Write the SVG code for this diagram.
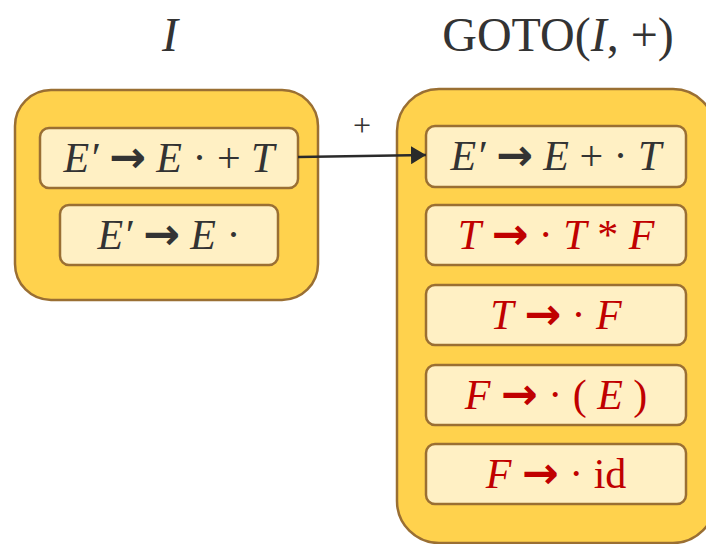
<svg xmlns="http://www.w3.org/2000/svg" width="706" height="544" viewBox="0 0 706 544">
<defs>
<style>
.outer{fill:#FFD24D;stroke:#9A6F33;stroke-width:2.5}
.inner{fill:#FFF0C4;stroke:#9A6F33;stroke-width:2.5}
.t{font-family:"Liberation Serif",serif;font-size:42px;text-anchor:middle;fill:#333333}
.r{fill:#C00000}
.i{font-style:italic}
.ar{font-family:"DejaVu Sans",sans-serif;font-weight:bold;font-size:44px}
.title{font-family:"Liberation Serif",serif;font-size:48px;text-anchor:middle;fill:#333333}
</style>
<marker id="ah" markerWidth="15" markerHeight="18" refX="15" refY="9" orient="auto" markerUnits="userSpaceOnUse" viewBox="0 0 15 18">
<path d="M0,0 L15,9 L0,18 z" fill="#2a2a2a"/>
</marker>
</defs>
<text class="title" x="170" y="51"><tspan class="i">I</tspan></text>
<text class="title" x="558" y="51">GOTO(<tspan class="i">I</tspan>, +)</text>
<g id="I">
<rect class="outer" x="15" y="90" width="303" height="210" rx="36"/>
<g id="i1"><rect class="inner" x="40" y="128" width="258" height="60" rx="9"/>
<text class="t" x="169" y="172"><tspan class="i">E′</tspan> <tspan class="ar">→</tspan> <tspan class="i">E</tspan> · + <tspan class="i">T</tspan></text></g>
<g id="i2"><rect class="inner" x="60" y="205" width="218" height="60" rx="9"/>
<text class="t" x="169" y="249"><tspan class="i">E′</tspan> <tspan class="ar">→</tspan> <tspan class="i">E</tspan> ·</text></g>
</g>
<g id="GOTO">
<rect class="outer" x="397" y="89" width="318" height="454" rx="42"/>
<g id="g1"><rect class="inner" x="426" y="126" width="260" height="61" rx="9"/>
<text class="t" x="556" y="170"><tspan class="i">E′</tspan> <tspan class="ar">→</tspan> <tspan class="i">E</tspan> + · <tspan class="i">T</tspan></text></g>
<g id="g2"><rect class="inner" x="426" y="205" width="260" height="60" rx="9"/>
<text class="t r" x="556" y="249"><tspan class="i">T</tspan> <tspan class="ar">→</tspan> · <tspan class="i">T</tspan> * <tspan class="i">F</tspan></text></g>
<g id="g3"><rect class="inner" x="426" y="285" width="260" height="60" rx="9"/>
<text class="t r" x="556" y="329"><tspan class="i">T</tspan> <tspan class="ar">→</tspan> · <tspan class="i">F</tspan></text></g>
<g id="g4"><rect class="inner" x="426" y="365" width="260" height="60" rx="9"/>
<text class="t r" x="556" y="409"><tspan class="i">F</tspan> <tspan class="ar">→</tspan> · ( <tspan class="i">E</tspan> )</text></g>
<g id="g5"><rect class="inner" x="426" y="444" width="260" height="60" rx="9"/>
<text class="t r" x="556" y="488"><tspan class="i">F</tspan> <tspan class="ar">→</tspan> · id</text></g>
</g>
<g id="connectors">
<line x1="298" y1="157" x2="426" y2="155" stroke="#2a2a2a" stroke-width="2.5" marker-end="url(#ah)"/>
<text x="362" y="136" font-family="Liberation Serif,serif" font-size="32" text-anchor="middle" fill="#333333">+</text>
</g>
</svg>
